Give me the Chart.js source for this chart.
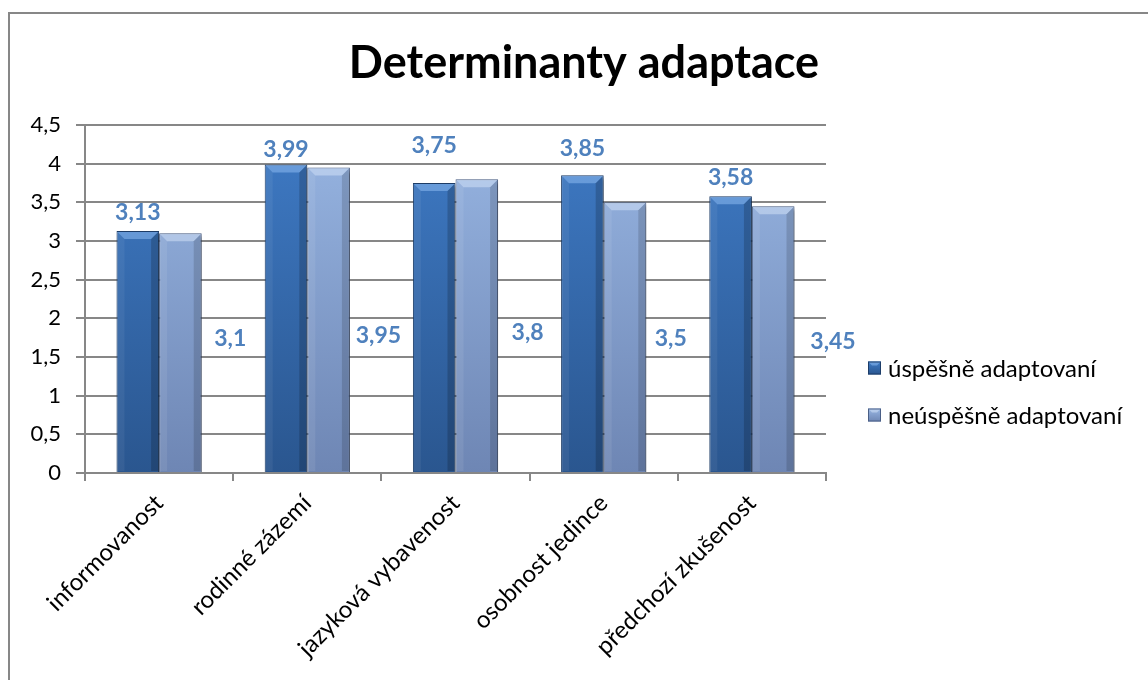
<!DOCTYPE html>
<html>
<head>
<meta charset="utf-8">
<script src="https://cdn.jsdelivr.net/npm/chart.js@4.4.1/dist/chart.umd.min.js"></script>
<style>
  html, body { margin: 0; padding: 0; background: #fff; }
  #wrap { position: relative; width: 1148px; height: 680px; }
</style>
</head>
<body>
<div id="wrap"><canvas id="c" width="1148" height="680"></canvas></div>
<script>
// ---- data ----
const chartTitle = 'Determinanty adaptace';
const categories = ['informovanost', 'rodinné zázemí', 'jazyková vybavenost', 'osobnost jedince', 'předchozí zkušenost'];
const seriesNames = ['úspěšně adaptovaní', 'neúspěšně adaptovaní'];
const successValues = [3.13, 3.99, 3.75, 3.85, 3.58];
const failValues = [3.1, 3.95, 3.8, 3.5, 3.45];
const yMin = 0, yMax = 4.5, yStep = 0.5;

// ---- styles ----
const FONT = 'Lato, "Open Sans", sans-serif';
const labelBlue = '#4f81bd';
const gridGray = '#878787';
const palette = [
  { top: '#3f7bc6', bottom: '#2a568f', border: '#1d3d68', bevel: 'rgba(140,185,240,0.55)', left: 'rgba(255,255,255,0.06)', right: 'rgba(0,0,0,0.18)' },
  { top: '#98b6e3', bottom: '#6e86b4', border: '#4a5f86', bevel: 'rgba(215,230,250,0.5)', left: 'rgba(255,255,255,0.08)', right: 'rgba(0,0,0,0.14)' }
];

// fit title width (~468px) like the reference
const mctx = document.createElement('canvas').getContext('2d');
let titleSize = 40;
mctx.font = 'bold ' + titleSize + 'px ' + FONT;
titleSize = Math.round(titleSize * 468 / mctx.measureText(chartTitle).width);

function fmt(v) { return String(v).replace('.', ','); }

function vGrad(ctx, area, p) {
  const g = ctx.createLinearGradient(0, area.top, 0, area.bottom);
  g.addColorStop(0, p.top);
  g.addColorStop(1, p.bottom);
  return g;
}

const framePlugin = {
  id: 'frame',
  beforeDraw(chart) {
    const c = chart.ctx;
    c.save();
    c.fillStyle = '#fff';
    c.fillRect(0, 0, chart.width, chart.height);
    c.strokeStyle = '#878787';
    c.lineWidth = 2;
    c.beginPath();
    c.moveTo(9, chart.height);
    c.lineTo(9, 13);
    c.lineTo(chart.width, 13);
    c.stroke();
    c.restore();
  },
  afterDraw(chart, args, opts) {
    const c = chart.ctx;
    c.save();
    c.font = 'bold ' + titleSize + 'px ' + FONT;
    c.fillStyle = '#000';
    c.textAlign = 'center';
    c.textBaseline = 'alphabetic';
    c.fillText(opts.text, opts.cx, opts.baseline);
    c.restore();
  }
};

const bevelPlugin = {
  id: 'bevel',
  beforeDatasetsDraw(chart) {
    const c = chart.ctx;
    c.save();
    c.shadowColor = 'rgba(0,0,0,0.35)';
    c.shadowOffsetX = 3;
    c.shadowOffsetY = 3;
    c.shadowBlur = 4;
  },
  afterDatasetsDraw(chart) {
    const c = chart.ctx;
    c.restore();
    for (let d = chart.data.datasets.length - 1; d >= 0; d--) {
      const meta = chart.getDatasetMeta(d);
      const p = palette[d];
      meta.data.forEach(el => {
        const x0 = el.x - el.width / 2 + 1, x1 = el.x + el.width / 2 - 1;
        const top = el.y + 1, bot = el.base - 1;
        const b = Math.min(7, (bot - top) / 2);
        c.save();
        c.fillStyle = p.bevel;
        c.beginPath();
        c.moveTo(x0, top); c.lineTo(x1, top); c.lineTo(x1 - b, top + b); c.lineTo(x0 + b, top + b); c.closePath();
        c.fill();
        c.fillStyle = p.left;
        c.beginPath();
        c.moveTo(x0, top); c.lineTo(x0 + b, top + b); c.lineTo(x0 + b, bot); c.lineTo(x0, bot); c.closePath();
        c.fill();
        c.fillStyle = p.right;
        c.beginPath();
        c.moveTo(x1, top); c.lineTo(x1 - b, top + b); c.lineTo(x1 - b, bot); c.lineTo(x1, bot); c.closePath();
        c.fill();
        c.restore();
      });
    }
  }
};

const labelPlugin = {
  id: 'valueLabels',
  afterDatasetsDraw(chart, args, opts) {
    const c = chart.ctx;
    const xs = chart.scales.x, ys = chart.scales.y;
    c.save();
    c.font = 'bold ' + opts.size + 'px ' + FONT;
    c.fillStyle = labelBlue;
    c.textAlign = 'center';
    c.textBaseline = 'middle';
    chart.getDatasetMeta(0).data.forEach((el, i) => {
      const v = chart.data.datasets[0].data[i];
      c.fillText(fmt(v), el.x, el.y - opts.lift[i]);
    });
    const catW = (xs.right - xs.left) / chart.data.labels.length;
    chart.getDatasetMeta(1).data.forEach((el, i) => {
      const v = chart.data.datasets[1].data[i];
      const x = xs.getPixelForValue(i) + catW / 2 + opts.shiftX[i];
      const y = ys.getPixelForValue(opts.fixedLevel) + opts.shiftY[i];
      c.fillText(fmt(v), x, y);
    });
    c.restore();
  }
};

const legendPlugin = {
  id: 'sideLegend',
  afterDraw(chart, args, opts) {
    const c = chart.ctx;
    c.save();
    c.font = opts.size + 'px ' + FONT;
    c.textBaseline = 'middle';
    c.textAlign = 'left';
    chart.data.datasets.forEach((ds, i) => {
      const y = opts.y0 + i * opts.gap;
      const p = palette[i];
      const s = 13, x = opts.x;
      const g = c.createLinearGradient(0, y - s / 2, 0, y + s / 2);
      g.addColorStop(0, p.top); g.addColorStop(1, p.bottom);
      c.fillStyle = g;
      c.fillRect(x, y - s / 2, s, s);
      c.fillStyle = p.bevel;
      c.beginPath();
      c.moveTo(x, y - s / 2); c.lineTo(x + s, y - s / 2); c.lineTo(x + s - 4, y - s / 2 + 4); c.lineTo(x + 4, y - s / 2 + 4); c.closePath();
      c.fill();
      c.strokeStyle = p.border; c.lineWidth = 1;
      c.strokeRect(x + 0.5, y - s / 2 + 0.5, s - 1, s - 1);
      c.fillStyle = '#000';
      c.fillText(ds.label, x + s + 7, y + 1);
    });
    c.restore();
  }
};

const ctx = document.getElementById('c').getContext('2d');
new Chart(ctx, {
  type: 'bar',
  data: {
    labels: categories,
    datasets: [
      {
        label: seriesNames[0],
        data: successValues,
        backgroundColor: (cx) => cx.chart.chartArea ? vGrad(cx.chart.ctx, cx.chart.chartArea, palette[0]) : palette[0].top,
        borderColor: palette[0].border,
        borderWidth: 1,
        categoryPercentage: 0.575,
        barPercentage: 1.0
      },
      {
        label: seriesNames[1],
        data: failValues,
        backgroundColor: (cx) => cx.chart.chartArea ? vGrad(cx.chart.ctx, cx.chart.chartArea, palette[1]) : palette[1].top,
        borderColor: palette[1].border,
        borderWidth: 1,
        categoryPercentage: 0.575,
        barPercentage: 1.0
      }
    ]
  },
  options: {
    responsive: false,
    animation: false,
    devicePixelRatio: 1,
    layout: { padding: { left: 0, right: 322, top: 125, bottom: 0 } },
    plugins: {
      legend: { display: false },
      tooltip: { enabled: false },
      title: { display: false },
      frame: { text: chartTitle, cx: 584, baseline: 78 },
      valueLabels: { size: 23, lift: [18, 15, 37, 27, 19], fixedLevel: 1.75, shiftX: [-3, -3, -2, -7, 7], shiftY: [1, -2, -5, 1, 4] },
      sideLegend: { size: 24, x: 868, y0: 368, gap: 47 }
    },
    scales: {
      x: {
        afterFit(scale) { scale.height = 207; },
        grid: { display: true, drawOnChartArea: false, drawTicks: true, tickLength: 8, color: gridGray, lineWidth: 2, offset: true },
        border: { display: true, color: gridGray, width: 2 },
        ticks: {
          autoSkip: false, maxRotation: 45, minRotation: 45, padding: 8,
          color: '#000', font: { family: FONT, size: 24 }
        }
      },
      y: {
        min: yMin, max: yMax,
        afterFit(scale) { scale.width = 85; },
        grid: { color: gridGray, lineWidth: 2, tickLength: 9, drawTicks: true },
        border: { display: true, color: gridGray, width: 2 },
        ticks: {
          stepSize: yStep, padding: 15, color: '#000',
          font: { family: FONT, size: 22 },
          callback: (v) => fmt(v)
        }
      }
    }
  },
  plugins: [framePlugin, bevelPlugin, labelPlugin, legendPlugin]
});
</script>
</body>
</html>
